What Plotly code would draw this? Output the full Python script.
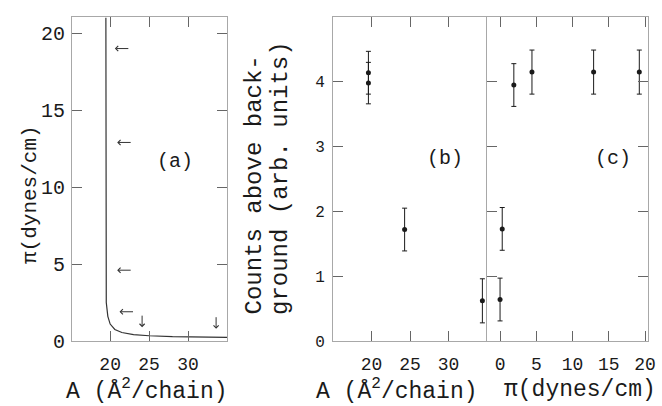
import plotly.graph_objects as go

# ---- data ----
# (a) pressure-area isotherm
iso_A = [19.45, 19.45, 19.45, 19.5, 19.7, 20.0, 20.6, 21.5, 23.0, 25.0, 28.0, 31.0, 35.0]
iso_pi = [21.0, 10.0, 4.0, 2.5, 1.6, 1.1, 0.75, 0.55, 0.42, 0.34, 0.28, 0.25, 0.23]
# arrows marking measurement states
arrow_A = [20.6, 20.9, 20.9, 21.2, 24.1, 33.6]
arrow_pi = [19.0, 12.9, 4.6, 1.9, 0.9, 0.8]
arrow_dir = ["left", "left", "left", "left", "down", "down"]

# (b) counts vs area
b_A = [19.6, 19.6, 24.3, 34.4]
b_counts = [4.14, 3.98, 1.72, 0.62]
b_err = [0.33, 0.32, 0.33, 0.34]

# (c) counts vs pressure
c_pi = [0.0, 0.3, 1.9, 4.4, 12.9, 19.2]
c_counts = [0.64, 1.73, 3.95, 4.15, 4.15, 4.15]
c_err = [0.33, 0.33, 0.33, 0.34, 0.34, 0.34]

a_xticks = [20, 25, 30]
a_yticks = [0, 5, 10, 15, 20]
bc_yticks = [0, 1, 2, 3, 4]
c_xticks = [0, 5, 10, 15, 20]

W, H = 662, 406
FONT = "Liberation Mono"
INK = "#1a1a1a"

def px(x):
    return x / W

def py(y):
    return 1 - y / H

fig = go.Figure()

fig.add_trace(go.Scatter(x=iso_A, y=iso_pi, mode="lines", xaxis="x", yaxis="y",
                         line=dict(color="#333", width=1.2), showlegend=False))

err_style = dict(type="data", thickness=1, width=2.5, color=INK)
fig.add_trace(go.Scatter(x=b_A, y=b_counts, mode="markers", xaxis="x2", yaxis="y2",
                         marker=dict(color=INK, size=5),
                         error_y=dict(array=b_err, **err_style), showlegend=False))
fig.add_trace(go.Scatter(x=c_pi, y=c_counts, mode="markers", xaxis="x3", yaxis="y3",
                         marker=dict(color=INK, size=5),
                         error_y=dict(array=c_err, **err_style), showlegend=False))

ydom = [py(341), py(17)]
axis_common = dict(showgrid=False, zeroline=False, showline=True, linecolor="#a8a8a8",
                   linewidth=1, ticks="inside", ticklen=10, tickcolor="#666",
                   tickwidth=1, mirror="ticks", tickfont=dict(family=FONT, size=18, color=INK))

def ax(**kw):
    d = dict(axis_common)
    d.update(kw)
    return d

fig.update_layout(
    width=W, height=H, margin=dict(l=0, r=0, t=0, b=0, autoexpand=False),
    paper_bgcolor="white", plot_bgcolor="white",
    xaxis=ax(domain=[px(72), px(227)], range=[15.1, 35.0], tickvals=a_xticks,
             anchor="y", ticklabelstandoff=6),
    yaxis=ax(domain=ydom, range=[0, 21.05], tickvals=a_yticks, anchor="x",
             ticklabelstandoff=2, tickfont=dict(family=FONT, size=20, color=INK)),
    xaxis2=ax(domain=[px(333), px(487)], range=[15.0, 35.0], tickvals=a_xticks,
              anchor="y2", ticklabelstandoff=6),
    yaxis2=ax(domain=ydom, range=[0, 5.0], tickvals=bc_yticks, anchor="x2", mirror=False,
              ticklabelstandoff=4, tickfont=dict(family=FONT, size=16, color=INK)),
    xaxis3=ax(domain=[px(487), px(648)], range=[-1.8, 20.4], tickvals=c_xticks,
              anchor="y3", ticklabelstandoff=6),
    yaxis3=ax(domain=ydom, range=[0, 5.0], tickvals=bc_yticks, anchor="x3",
              showticklabels=False),
)

ann = []
for a, p, d in zip(arrow_A, arrow_pi, arrow_dir):
    off = dict(ax=15, ay=0) if d == "left" else dict(ax=0, ay=-13)
    ann.append(dict(x=a, y=p, xref="x", yref="y", text="", showarrow=True,
                    arrowhead=4, arrowsize=1, arrowwidth=1, arrowcolor="#333", **off))

def label(text, x, y, size, angle=0, xanchor="center", yanchor="middle"):
    ann.append(dict(text=text, x=px(x), y=py(y), xref="paper", yref="paper", showarrow=False,
                    textangle=angle, xanchor=xanchor, yanchor=yanchor,
                    font=dict(family=FONT, size=size, color=INK)))

label("π(dynes/cm)", 30, 195, 21, -90)
label("Counts above back-", 254, 317, 24, -90, yanchor="bottom")
label("ground (arb. units)", 280, 317, 24, -90, yanchor="bottom")
label("A (Å<sup>2</sup>/chain)", 147, 390, 23)
label("A (Å<sup>2</sup>/chain)", 397, 390, 23)
label("π(dynes/cm)", 580, 390, 23)
label("(a)", 175, 161, 20)
label("(b)", 445, 158, 20)
label("(c)", 613, 158, 20)

fig.update_layout(annotations=ann)
fig.write_html("out.html", config={"displayModeBar": False},
               post_script="document.body.style.margin='0px';")
